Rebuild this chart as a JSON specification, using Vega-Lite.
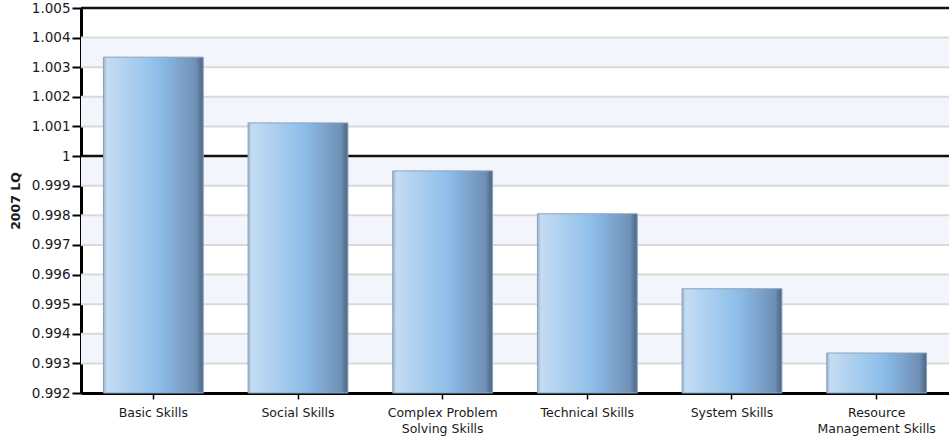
{
  "$schema": "https://vega.github.io/schema/vega-lite/v6.json",
  "autosize": "none",
  "width": 868,
  "height": 385,
  "padding": {"left": 81, "top": 8, "right": 0, "bottom": 46},
  "background": "white",
  "config": {
    "view": {"stroke": null},
    "font": "DejaVu Sans",
    "axis": {"labelFont": "DejaVu Sans", "titleFont": "DejaVu Sans", "labelColor": "#1a1a1a", "titleColor": "#1a1a1a"},
    "axisY": {
      "titleFontSize": 12.5, "titleFontWeight": "bold", "titlePadding": 9,
      "labelFontSize": 13.5, "labelPadding": 2, "labelOverlap": false, "labelBound": false, "labelFlush": false, "grid": false,
      "domainColor": "#000000", "domainWidth": 3, "tickColor": "#000000", "tickWidth": 2, "tickSize": 9
    }
  },
  "datasets": {
    "skills": [
      {"skill": "Basic Skills", "lq": 1.00334},
      {"skill": "Social Skills", "lq": 1.00112},
      {"skill": "Complex Problem Solving Skills", "lq": 0.99950},
      {"skill": "Technical Skills", "lq": 0.99805},
      {"skill": "System Skills", "lq": 0.99552},
      {"skill": "Resource Management Skills", "lq": 0.99335}
    ],
    "bands": [
      {"lo": 0.993, "hi": 0.994},
      {"lo": 0.995, "hi": 0.996},
      {"lo": 0.997, "hi": 0.998},
      {"lo": 0.999, "hi": 1.000},
      {"lo": 1.001, "hi": 1.002},
      {"lo": 1.003, "hi": 1.004}
    ],
    "refs": [
      {"v": 1.0},
      {"v": 1.005}
    ]
  },
  "layer": [
    {
      "data": {"name": "bands"},
      "mark": {"type": "rect", "fill": "#f2f5fb"},
      "encoding": {
        "y": {
          "field": "lo", "type": "quantitative",
          "scale": {"domain": [0.992, 1.005], "zero": false, "nice": false},
          "axis": {"title": "2007 LQ", "values": [0.992, 0.993, 0.994, 0.995, 0.996, 0.997, 0.998, 0.999, 1, 1.001, 1.002, 1.003, 1.004, 1.005], "labelExpr": "datum.value == 1 ? '1' : format(datum.value, '.3f')"}
        },
        "y2": {"field": "hi"}
      }
    },
    {
      "data": {"name": "bands"},
      "mark": {"type": "rule", "stroke": "#d9d9d9", "strokeWidth": 2},
      "encoding": {"y": {"field": "lo", "type": "quantitative", "axis": {"title": "2007 LQ", "values": [0.992, 0.993, 0.994, 0.995, 0.996, 0.997, 0.998, 0.999, 1, 1.001, 1.002, 1.003, 1.004, 1.005], "labelExpr": "datum.value == 1 ? '1' : format(datum.value, '.3f')"}}}
    },
    {
      "data": {"name": "bands"},
      "mark": {"type": "rule", "stroke": "#d9d9d9", "strokeWidth": 2},
      "encoding": {"y": {"field": "hi", "type": "quantitative", "axis": {"title": "2007 LQ", "values": [0.992, 0.993, 0.994, 0.995, 0.996, 0.997, 0.998, 0.999, 1, 1.001, 1.002, 1.003, 1.004, 1.005], "labelExpr": "datum.value == 1 ? '1' : format(datum.value, '.3f')"}}}
    },
    {
      "data": {"name": "refs"},
      "mark": {"type": "rule", "stroke": "#111111", "strokeWidth": 2.5},
      "encoding": {"y": {"field": "v", "type": "quantitative", "axis": {"title": "2007 LQ", "values": [0.992, 0.993, 0.994, 0.995, 0.996, 0.997, 0.998, 0.999, 1, 1.001, 1.002, 1.003, 1.004, 1.005], "labelExpr": "datum.value == 1 ? '1' : format(datum.value, '.3f')"}}}
    },
    {
      "data": {"name": "skills"},
      "mark": {
        "type": "bar",
        "stroke": "#8aa2bd",
        "strokeWidth": 1,
        "color": {
          "gradient": "linear",
          "x1": 0, "y1": 0, "x2": 1, "y2": 0,
          "stops": [
            {"offset": 0, "color": "#98b0c9"},
            {"offset": 0.035, "color": "#c4dcf3"},
            {"offset": 0.55, "color": "#8dbfea"},
            {"offset": 0.93, "color": "#6f8fb5"},
            {"offset": 0.96, "color": "#5c7b9e"},
            {"offset": 1, "color": "#4d6888"}
          ]
        }
      },
      "encoding": {
        "x": {
          "field": "skill", "type": "nominal", "sort": null,
          "scale": {"paddingInner": 0.31, "paddingOuter": 0.155},
          "axis": {
            "title": null, "labelAngle": 0, "labelFontSize": 12.5, "labelPadding": 7, "labelLineHeight": 16,
            "domainColor": "#000000", "domainWidth": 3, "tickColor": "#000000", "tickWidth": 1.5, "tickSize": 6,
            "labelExpr": "datum.value == 'Complex Problem Solving Skills' ? ['Complex Problem', 'Solving Skills'] : datum.value == 'Resource Management Skills' ? ['Resource', 'Management Skills'] : datum.value"
          }
        },
        "y": {"field": "lq", "type": "quantitative", "axis": {"title": "2007 LQ", "values": [0.992, 0.993, 0.994, 0.995, 0.996, 0.997, 0.998, 0.999, 1, 1.001, 1.002, 1.003, 1.004, 1.005], "labelExpr": "datum.value == 1 ? '1' : format(datum.value, '.3f')"}},
        "y2": {"datum": 0.992}
      }
    }
  ]
}
